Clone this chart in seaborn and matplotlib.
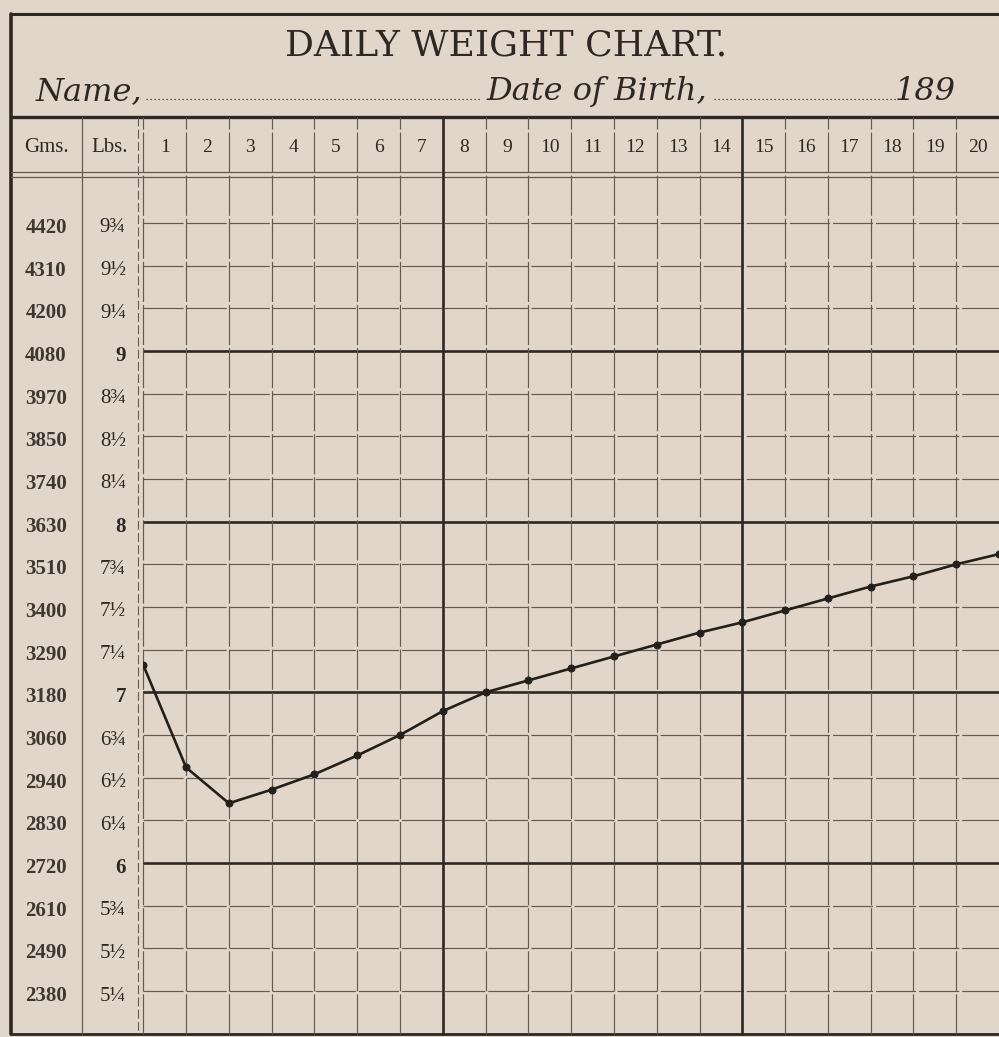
import matplotlib
matplotlib.use('Agg')
import matplotlib.pyplot as plt
import matplotlib.transforms as mtransforms
import seaborn as sns

# daily weights (lbs), day 1 .. day 21
days = list(range(1, 22))
weight_lbs = [7.16, 6.56, 6.35, 6.43, 6.52, 6.63, 6.75, 6.89, 7.00, 7.07, 7.14,
              7.21, 7.28, 7.35, 7.41, 7.48, 7.55, 7.62, 7.68, 7.75, 7.81]

# row scale: quarter pounds with gram equivalents
row_lbs = [9.75, 9.5, 9.25, 9.0, 8.75, 8.5, 8.25, 8.0, 7.75, 7.5, 7.25, 7.0,
           6.75, 6.5, 6.25, 6.0, 5.75, 5.5, 5.25]
gms_labels = ['4420', '4310', '4200', '4080', '3970', '3850', '3740', '3630',
              '3510', '3400', '3290', '3180', '3060', '2940', '2830', '2720',
              '2610', '2490', '2380']
lbs_labels = ['9¾', '9½', '9¼', '9', '8¾', '8½', '8¼', '8', '7¾', '7½', '7¼',
              '7', '6¾', '6½', '6¼', '6', '5¾', '5½', '5¼']
day_labels = [str(d) for d in range(1, 21)]
week_days = [8, 15]

paper = '#e2d6ca'
ink = '#2d2824'
grid_ink = '#635a53'
serif = ['DejaVu Serif']
body = ['Liberation Serif', 'DejaVu Serif']

sns.set_theme(style='white', rc={'figure.facecolor': paper, 'axes.facecolor': paper})

W, H = 999, 1037
fig = plt.figure(figsize=(W / 100, H / 100), dpi=100)

# background axes in pixel units for the printed form
bg = fig.add_axes([0, 0, 1, 1])
bg.set_xlim(0, W)
bg.set_ylim(H, 0)
bg.axis('off')

top_px, bot_px, left_px = 180.3, 1033.7, 143.3
ax = fig.add_axes([left_px / W, 1 - bot_px / H, 1 - left_px / W, (bot_px - top_px) / H])
ax.set_facecolor('none')
ax.set_xlim(1, 21)
ax.set_ylim(5, 10)

# grid
thin = dict(color=grid_ink, lw=0.85, ls=(0, (34, 2.5)))
for y in row_lbs:
    if y % 1 == 0:
        ax.axhline(y, color=ink, lw=1.9, zorder=1)
    else:
        ax.axhline(y, zorder=1, **thin)

hdr_top = (bot_px - 117) / (bot_px - top_px)
for d in range(1, 21):
    if d in week_days:
        ax.axvline(d, ymax=hdr_top, color=ink, lw=1.9, clip_on=False, zorder=1)
    else:
        ax.axvline(d, ymax=hdr_top, clip_on=False, zorder=1, **thin)

sns.lineplot(x=days, y=weight_lbs, ax=ax, color='#231f1b', lw=1.9, marker='o',
             markersize=5, markeredgecolor='#231f1b', zorder=3)

ax.set_xticks([])
ax.set_yticks([])
ax.set_xlabel('')
ax.set_ylabel('')
for s in ax.spines.values():
    s.set_visible(False)

# form frame
bg.plot([11, W], [14, 14], color=ink, lw=2.2)
bg.plot([11, 11], [14, bot_px], color=ink, lw=2.6)
bg.plot([11, W], [117, 117], color=ink, lw=2.4)
bg.plot([11, W], [172, 172], color=grid_ink, lw=0.9)
bg.plot([11, W], [177, 177], color=grid_ink, lw=0.9)
bg.plot([11, W], [bot_px, bot_px], color=ink, lw=2.0)
bg.plot([82, 82], [117, bot_px], color=grid_ink, lw=0.9)
bg.plot([138, 138], [117, bot_px], color=grid_ink, lw=0.8, ls=(0, (8, 3)))

# title block
bg.text(506, 46, 'DAILY WEIGHT CHART.', ha='center', va='center',
        fontsize=26, color=ink, family=serif)
bg.text(36, 100, 'Name,', ha='left', va='baseline', fontsize=23,
        style='italic', color=ink, family=serif)
bg.text(486, 100, 'Date of Birth,', ha='left', va='baseline', fontsize=23,
        style='italic', color=ink, family=serif)
bg.text(956, 100, '189', ha='right', va='baseline', fontsize=23,
        style='italic', color=ink, family=serif)
bg.plot([146, 482], [99, 99], color=ink, lw=0.9, ls=(0, (1, 2.2)))
bg.plot([714, 896], [99, 99], color=ink, lw=0.9, ls=(0, (1, 2.2)))

# header row
hdr = mtransforms.blended_transform_factory(ax.transData, bg.transData)
for d, lab in zip(range(1, 21), day_labels):
    ax.text(d + 0.5, 147, lab, transform=hdr, ha='center', va='center',
            fontsize=14, color=ink, family=body)
bg.text(46, 147, 'Gms.', ha='center', va='center', fontsize=15, color=ink, family=body)
bg.text(110, 147, 'Lbs.', ha='center', va='center', fontsize=15, color=ink, family=body)

# row labels tied to the lbs scale
rows = mtransforms.blended_transform_factory(bg.transData, ax.transData)
rows = mtransforms.offset_copy(rows, fig=fig, x=0, y=-5, units='dots')
for y, g, l in zip(row_lbs, gms_labels, lbs_labels):
    bg.text(46, y, g, transform=rows, ha='center', va='center', fontsize=15,
            fontweight='bold', color='#3f3832', family=body)
    bg.text(126, y, l, transform=rows, ha='right', va='center', fontsize=15,
            fontweight='bold' if y % 1 == 0 else 'normal', color=ink, family=body)

fig.savefig('out.png', dpi=100, facecolor=paper)
